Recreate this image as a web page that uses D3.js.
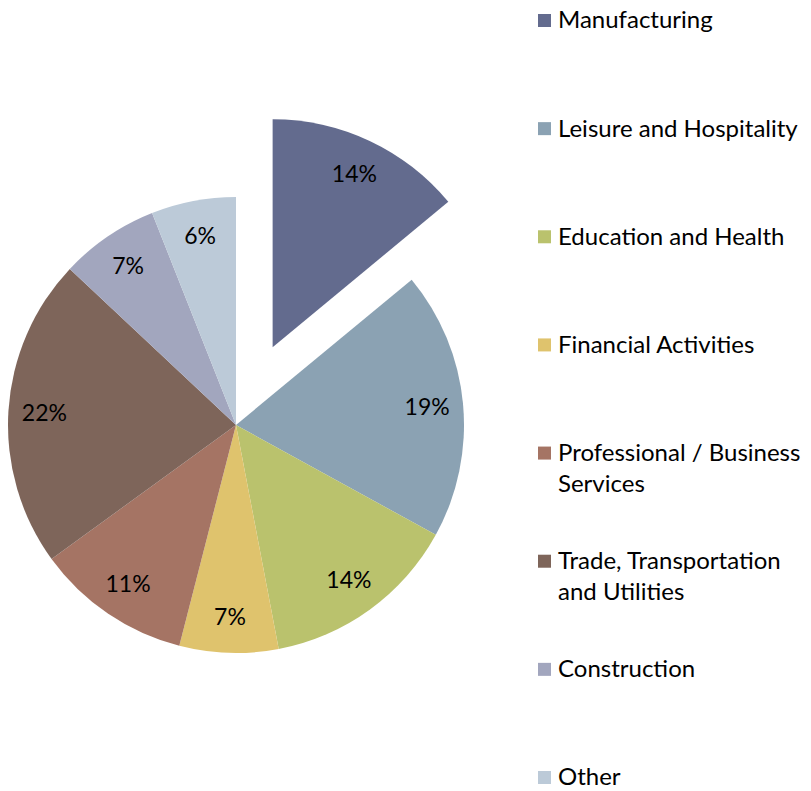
<!DOCTYPE html>
<html>
<head>
<meta charset="utf-8">
<script src="https://cdn.jsdelivr.net/npm/d3@7"></script>
<style>
  body { margin: 0; background: #fff; }
  text { font-family: "Lato", "Open Sans", sans-serif; fill: #000; }
</style>
</head>
<body>
<script>
var sectors = ["Manufacturing", "Leisure and Hospitality", "Education and Health",
  "Financial Activities", "Professional / Business Services",
  "Trade, Transportation and Utilities", "Construction", "Other"];
var shares = [14, 19, 14, 7, 11, 22, 7, 6];
var colors = ["#636b8e", "#8ba2b3", "#bac26d", "#dfc36d", "#a57464", "#7e655a", "#a2a6be", "#bccad8"];
// legend text split into lines as in the original
var legendLines = [["Manufacturing"], ["Leisure and Hospitality"], ["Education and Health"],
  ["Financial Activities"], ["Professional / Business", "Services"],
  ["Trade, Transportation", "and Utilities"], ["Construction"], ["Other"]];

var width = 811, height = 791;
var cx = 236, cy = 425, radius = 228;

var svg = d3.select("body").append("svg")
    .attr("width", width)
    .attr("height", height);

var color = d3.scaleOrdinal().domain(sectors).range(colors);

var pie = d3.pie().sort(null).value(function(d) { return d.value; });
var data = sectors.map(function(s, i) { return { name: s, value: shares[i] }; });
var arcs = pie(data);

var arc = d3.arc().innerRadius(0).outerRadius(radius);
var labelArc = d3.arc().innerRadius(192).outerRadius(192);

var g = svg.append("g").attr("transform", "translate(" + cx + "," + cy + ")");

// first slice (Manufacturing) is pulled out
var explode = 86;
function offset(d, i) {
  if (i !== 0) return "translate(0,0)";
  var a = (d.startAngle + d.endAngle) / 2;
  return "translate(" + (explode * Math.sin(a)) + "," + (-explode * Math.cos(a)) + ")";
}

var slices = g.selectAll(".slice")
  .data(arcs)
  .enter().append("g")
    .attr("class", "slice")
    .attr("transform", offset);

slices.append("path")
    .attr("d", arc)
    .style("fill", function(d) { return color(d.data.name); });

slices.append("text")
    .attr("transform", function(d) { return "translate(" + labelArc.centroid(d) + ")"; })
    .attr("text-anchor", "middle")
    .attr("dy", "0.35em")
    .style("font-size", "23px")
    .text(function(d) { return d.data.value + "%"; });

// legend
var ly = d3.scaleLinear().domain([0, sectors.length - 1]).range([20, 777]);

var legend = svg.selectAll(".legend")
  .data(sectors)
  .enter().append("g")
    .attr("class", "legend")
    .attr("transform", function(d, i) { return "translate(538," + ly(i) + ")"; });

legend.append("rect")
    .attr("x", 0)
    .attr("y", -6)
    .attr("width", 13)
    .attr("height", 13)
    .style("fill", function(d) { return color(d); });

legend.append("text")
    .attr("x", 20)
    .style("font-size", "24px")
    .selectAll("tspan")
    .data(function(d, i) { return legendLines[i]; })
    .enter().append("tspan")
      .attr("x", 20)
      .attr("dy", function(d, j) { return j === 0 ? "0.35em" : "31px"; })
      .text(function(d) { return d; });
</script>
</body>
</html>
